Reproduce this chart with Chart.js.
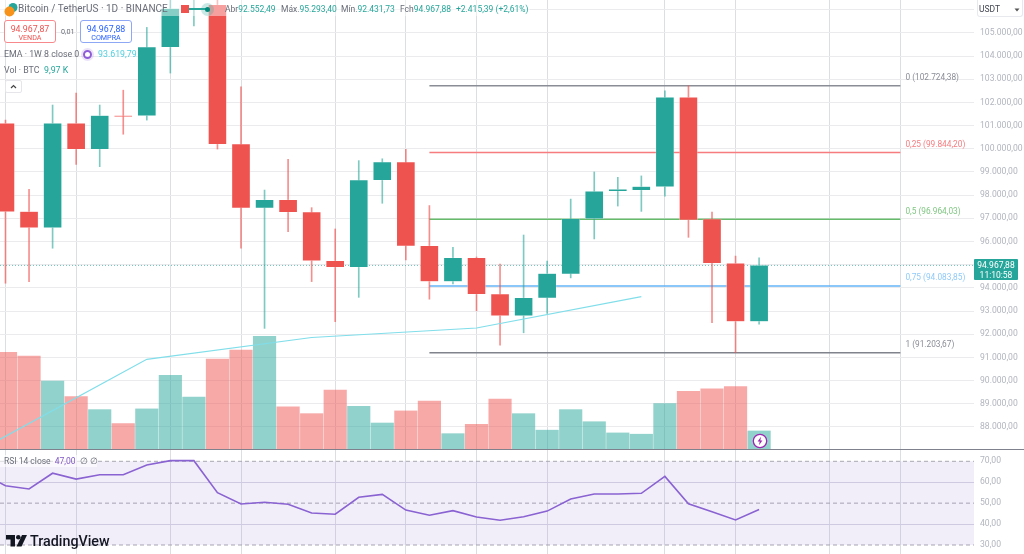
<!DOCTYPE html>
<html lang="pt-BR">
<head>
<meta charset="utf-8">
<title>BTC/USDT</title>
<script src="https://cdn.jsdelivr.net/npm/chart.js@4"></script>
<style>
  html, body { margin: 0; padding: 0; background: #fff; }
  #wrap { position: relative; width: 1024px; height: 554px; overflow: hidden; font-family: Roboto, sans-serif; }
  canvas { position: absolute; left: 0; top: 0; }
  .t { position: absolute; white-space: nowrap; line-height: 1; }
  .grey { color: #6a6d78; }
  .teal { color: #26a69a; }
  .btn { position: absolute; top: 20px; height: 23px; width: 52px; background: #fff; border-radius: 3px; text-align: center; box-sizing: border-box; }
  .btn b { display: block; font-weight: 400; font-size: 8.8px; margin-top: 3px; line-height: 10px; }
  .btn span { display: block; font-size: 7.2px; line-height: 8px; }
</style>
</head>
<body>
<div id="wrap">
  <canvas id="chart" width="1024" height="554"></canvas>

  <!-- cabecera -->
  <div style="position:absolute;left:0;top:0;width:530px;height:16px;background:rgba(255,255,255,.45)"></div>
  <svg style="position:absolute;left:4px;top:2px" width="14" height="15" viewBox="0 0 14 15">
    <circle cx="9" cy="5.5" r="4.5" fill="#26a69a"/><circle cx="5.5" cy="9.5" r="5" fill="#f7931a"/>
  </svg>
  <div class="t grey" style="left:18px;top:4px;font-size:10px">Bitcoin / TetherUS · 1D · BINANCE</div>
  <div style="position:absolute;left:181px;top:5px;width:8px;height:8px;background:#ef5350"></div>
  <div style="position:absolute;left:189px;top:8px;width:18px;height:2px;background:#26a69a"></div>
  <div style="position:absolute;left:201px;top:3px;width:13px;height:13px;border-radius:50%;background:rgba(38,166,154,.25)"></div>
  <div style="position:absolute;left:205px;top:7px;width:5px;height:5px;border-radius:50%;background:#00897b"></div>
  <div class="t grey" style="left:225px;top:5px;font-size:8.5px">Abr<span class="teal">92.552,49</span></div>
  <div class="t grey" style="left:281px;top:5px;font-size:8.5px">Máx.<span class="teal">95.293,40</span></div>
  <div class="t grey" style="left:341px;top:5px;font-size:8.5px">Mín.<span class="teal">92.431,73</span></div>
  <div class="t grey" style="left:400px;top:5px;font-size:8.5px">Fch<span class="teal">94.967,88</span></div>
  <div class="t teal" style="left:456px;top:5px;font-size:8.5px">+2.415,39 (+2,61%)</div>

  <div class="btn" style="left:4px;border:1px solid #f7898c;color:#ef5350"><b>94.967,87</b><span>VENDA</span></div>
  <div class="t grey" style="left:61px;top:28px;font-size:7.2px">0,01</div>
  <div class="btn" style="left:80px;border:1px solid #8ea8f5;color:#2962ff"><b>94.967,88</b><span>COMPRA</span></div>

  <div class="t grey" style="left:4px;top:50px;font-size:8.8px">EMA · 1W 8 close 0</div>
  <div style="position:absolute;left:83px;top:50px;width:5px;height:5px;border:2px solid #8e5cd9;border-radius:50%;box-shadow:0 0 0 2px rgba(142,92,217,.18)"></div>
  <div class="t" style="left:98px;top:50px;font-size:8.8px;color:#4dd0e1">93.619,79</div>
  <div class="t grey" style="left:4px;top:66px;font-size:8.8px">Vol · BTC</div>
  <div class="t teal" style="left:44px;top:66px;font-size:8.8px">9,97 K</div>
  <div style="position:absolute;left:5px;top:80px;width:17px;height:13px;border:1px solid #e6e6ea;border-radius:2px;background:#fff;box-sizing:border-box"></div>
  <svg style="position:absolute;left:10px;top:84px" width="7" height="5"><path d="M1 4 L3.5 1.5 L6 4" fill="none" stroke="#444" stroke-width="1.2"/></svg>

  <!-- escala -->
  <div style="position:absolute;left:977px;top:0;width:46px;height:17px;border:1px solid #e8e9ee;border-top:0;border-radius:0 0 3px 3px;background:#fff;box-sizing:border-box"></div>
  <div class="t" style="left:979px;top:5px;font-size:8.5px;color:#434651">USDT</div>
  <svg style="position:absolute;left:1014px;top:8px" width="6" height="4"><path d="M0.5 0.5 L3 3.5 L5.5 0.5 Z" fill="#555"/></svg>
  <div style="position:absolute;left:974px;top:259px;width:44px;height:21px;background:#26a69a;border-radius:1px;color:#fff;font-size:8.5px;line-height:10px;text-align:center;padding-top:1px;box-sizing:border-box">94.967,88<br>11:10:58</div>

  <!-- paneles -->
  <div style="position:absolute;left:0;top:449px;width:1024px;height:1px;background:#7f828c"></div>
  <div style="position:absolute;left:0;top:455px;width:97px;height:12px;background:rgba(255,255,255,.6)"></div>
  <div class="t grey" style="left:4px;top:457px;font-size:8.5px">RSI 14 close <span style="color:#7e57c2;margin-left:2px">47,00</span> <span style="margin-left:2px">∅ ∅</span></div>

  <svg style="position:absolute;left:752px;top:433px" width="16" height="16" viewBox="0 0 16 16">
    <circle cx="8" cy="8" r="6.7" fill="#fff" stroke="#9c27b0" stroke-width="1.3"/>
    <path d="M9 3.8 L5.6 8.6 L7.7 8.6 L7 12.2 L10.4 7.4 L8.3 7.4 Z" fill="#9c27b0"/>
  </svg>

  <!-- logo -->
  <svg style="position:absolute;left:6px;top:535px" width="21" height="12" viewBox="0 0 21 12">
    <path d="M0 0 H9 V11.5 H4.5 V4.5 H0 Z" fill="#131722"/><circle cx="12.3" cy="2.3" r="2.3" fill="#131722"/>
    <path d="M16 0 H21 L15.5 11.5 H10.5 Z" fill="#131722"/>
  </svg>
  <div class="t" style="left:30px;top:534px;font-size:14.3px;font-weight:500;color:#131722">TradingView</div>
</div>

<script>
  // velas diarias BTC/USDT
  const opens  = [101100, 97290, 96600, 101100, 99980, 101430, 101430, 104390, 106800, 106210, 100200, 97450, 97800, 97270, 95170, 94890, 98650, 99430, 95810, 94280, 95290, 93730, 92800, 93570, 94600, 96980, 98170, 98210, 98370, 102220, 96970, 95060, 92552];
  const closes = [97290, 96600, 101100, 99980, 101430, 101390, 104390, 106050, 107500, 100200, 97450, 97800, 97270, 95170, 94890, 98650, 99430, 95810, 94280, 95290, 93730, 92800, 93570, 94610, 96980, 98170, 98250, 98370, 102220, 96930, 95060, 92550, 94968];
  const highs  = [101240, 98250, 101890, 102410, 101890, 102530, 105240, 106500, 107800, 106500, 102680, 98220, 99550, 97460, 96540, 99490, 99570, 99980, 97550, 95750, 95330, 95030, 96280, 95150, 97830, 99000, 98770, 98830, 102500, 102724, 97270, 95370, 95293];
  const lows   = [94200, 94270, 95710, 99330, 99230, 100630, 101240, 103270, 105300, 99990, 95710, 92250, 96420, 94270, 92540, 93590, 97650, 95210, 93510, 94170, 93010, 91530, 92060, 92900, 94430, 96110, 97530, 97300, 97960, 96180, 92500, 91203, 92432];
  // volumen en miles de BTC
  const volumes = [52.9, 50.8, 37.1, 28.7, 21.6, 14.0, 22.0, 40.3, 28.5, 49.2, 54.0, 61.5, 23.1, 19.4, 32.3, 23.4, 14.3, 20.9, 26.2, 8.5, 13.6, 27.3, 19.4, 10.4, 21.6, 15.0, 8.9, 8.2, 24.9, 31.6, 33.0, 34.1, 9.97];
  // RSI: el primer valor es la vela anterior, fuera de la imagen
  const rsiValues = [64.4, 58.3, 56.8, 64.3, 61.5, 63.6, 63.6, 68.2, 70.3, 70.3, 55.0, 49.6, 50.4, 49.5, 45.3, 44.7, 52.8, 54.2, 46.7, 44.2, 46.4, 43.4, 41.8, 43.5, 46.2, 52.0, 54.4, 54.4, 54.7, 62.8, 49.7, 45.9, 42.0, 47.0];
  // EMA semanal
  const emaIndex  = [-1, 6, 13, 20, 27];
  const emaValues = [87040, 90916, 91857, 92267, 93620];
  // Fibonacci
  const fibRatios = ["0", "0,25", "0,5", "0,75", "1"];
  const fibPrices = [102724.38, 99844.20, 96964.03, 94083.85, 91203.67];
  const fibColors = ["#8b8d96", "#f77c80", "#66bb6a", "#64b5f6", "#80828c"];
  const fibTextColors = ["#8b8d96", "#f77c80", "#81c784", "#90caf9", "#8b8d96"];
  const fibStart = 18, fibEnd = 38;
  const lastPrice = 94967.88;
  const gridIndex = [0, 3, 7, 10, 14, 17, 20, 23, 28, 31, 35, 38];
  const priceTicks = [88000, 89000, 90000, 91000, 92000, 93000, 94000, 95000, 96000, 97000, 98000, 99000, 100000, 101000, 102000, 103000, 104000, 105000, 106000];
  const rsiTicks = [30, 40, 50, 60, 70];
  const rsiBands = [70, 50, 30];

  const RED = "#ef5350", GREEN = "#26a69a";
  const formatNum = (v) => v.toLocaleString("pt-BR", { minimumFractionDigits: 2, maximumFractionDigits: 2 });
  const isUp = opens.map((o, i) => closes[i] >= o);
  const xMin = -0.2335, xMax = 41.125;
  const noPadding = (s) => { s.paddingTop = 0; s.paddingBottom = 0; s.paddingLeft = 0; s.paddingRight = 0; };

  const fibDatasets = fibPrices.map((p, i) => ({
    type: "line", yAxisID: "y", order: 8, borderColor: fibColors[i], borderWidth: 1.5, pointRadius: 0,
    data: [{ x: fibStart, y: p }, { x: fibEnd, y: p }],
  }));
  const bandDatasets = rsiBands.map((b, i) => ({
    type: "line", yAxisID: "rsi", order: 7, borderColor: "#a8a8b0", borderWidth: 1, borderDash: [4, 3], pointRadius: 0,
    fill: i === 0 ? { target: "+2" } : false, backgroundColor: "rgba(126,87,194,0.1)",
    data: [{ x: xMin, y: b }, { x: xMax, y: b }],
  }));

  // etiquetas de los niveles de Fibonacci
  const fibLabels = {
    id: "fibLabels",
    afterDatasetsDraw(chart) {
      const { ctx, scales } = chart;
      ctx.save();
      ctx.font = "8.3px Roboto";
      ctx.textBaseline = "middle";
      fibPrices.forEach((p, i) => {
        ctx.fillStyle = fibTextColors[i];
        ctx.fillText(fibRatios[i] + " (" + formatNum(p) + ")", scales.x.getPixelForValue(fibEnd) + 5, scales.y.getPixelForValue(p) - 7.5);
      });
      ctx.restore();
    },
  };

  new Chart(document.getElementById("chart"), {
    type: "bar",
    plugins: [fibLabels],
    data: {
      datasets: [
        {
          label: "Vol", yAxisID: "vol", order: 10, grouped: false, barThickness: 22.5,
          backgroundColor: isUp.map((u) => (u ? "rgba(38,166,154,0.5)" : "rgba(239,83,80,0.5)")),
          data: volumes.map((v, i) => ({ x: i, y: [0, v] })),
        },
        ...fibDatasets,
        ...bandDatasets,
        {
          label: "Mechas", yAxisID: "y", order: 5, grouped: false, barThickness: 1,
          backgroundColor: isUp.map((u) => (u ? "rgba(38,166,154,0.6)" : "rgba(239,83,80,0.65)")),
          data: highs.map((h, i) => ({ x: i, y: [lows[i], h] })),
        },
        {
          label: "Velas", yAxisID: "y", order: 4, grouped: false, barThickness: 18,
          backgroundColor: isUp.map((u) => (u ? GREEN : RED)),
          borderColor: "rgba(255,255,255,0.55)", borderWidth: 0.5, borderSkipped: false,
          data: opens.map((o, i) => ({ x: i, y: [o, closes[i]] })),
        },
        {
          type: "line", label: "Último", yAxisID: "y", order: 6, borderColor: "rgba(38,166,154,0.7)", borderWidth: 1, borderDash: [1, 2], pointRadius: 0,
          data: [{ x: xMin, y: lastPrice }, { x: xMax, y: lastPrice }],
        },
        {
          type: "line", label: "EMA", yAxisID: "y", order: 3, borderColor: "#80deea", borderWidth: 1.2, pointRadius: 0, tension: 0,
          data: emaIndex.map((x, i) => ({ x, y: emaValues[i] })),
        },
        {
          type: "line", label: "RSI", yAxisID: "rsi", order: 2, borderColor: "#8a63d2", borderWidth: 1.6, pointRadius: 0, tension: 0,
          data: rsiValues.map((v, i) => ({ x: i - 1, y: v })),
        },
      ],
    },
    options: {
      responsive: false,
      animation: false,
      layout: { padding: 0 },
      plugins: { legend: { display: false }, tooltip: { enabled: false } },
      scales: {
        x: {
          type: "linear", min: xMin, max: xMax, offset: false,
          grid: { offset: false, color: "rgba(180,182,190,0.45)", lineWidth: 1, drawTicks: false },
          border: { display: false },
          ticks: { display: false },
          afterBuildTicks: (s) => { s.ticks = gridIndex.map((v) => ({ value: v })); },
          afterFit: (s) => { s.height = 0; noPadding(s); },
        },
        y: {
          type: "linear", position: "right", stack: "paneles", stackWeight: 450, weight: 1,
          min: 87001, max: 106423, offset: false,
          grid: { color: "#ebebee", lineWidth: 1, drawTicks: false },
          border: { display: false },
          ticks: { autoSkip: false, padding: 6, color: "#b2b5be", font: { family: "Roboto", size: 8.6 }, crossAlign: "near", callback: (v) => formatNum(v) },
          afterBuildTicks: (s) => { s.ticks = priceTicks.map((v) => ({ value: v })); },
          afterFit: (s) => { s.width = 50; noPadding(s); },
        },
        rsi: {
          type: "linear", position: "right", stack: "paneles", stackWeight: 104, weight: 2,
          min: 25.7, max: 75.4, offset: false,
          grid: { color: (c) => (rsiBands.includes(c.tick.value) ? "transparent" : "#d9d6e6"), lineWidth: 1, drawTicks: false },
          border: { display: false },
          ticks: { autoSkip: false, padding: 6, color: "#b2b5be", font: { family: "Roboto", size: 8.6 }, crossAlign: "near", callback: (v) => formatNum(v) },
          afterBuildTicks: (s) => { s.ticks = rsiTicks.map((v) => ({ value: v })); },
          afterFit: (s) => { s.width = 50; noPadding(s); },
        },
        // volumen superpuesto sobre el panel de precio, cero en la base del panel
        vol: { type: "linear", position: "left", display: false, min: -57.1, max: 244.9, offset: false, grid: { display: false } },
      },
    },
  });
</script>
</body>
</html>
